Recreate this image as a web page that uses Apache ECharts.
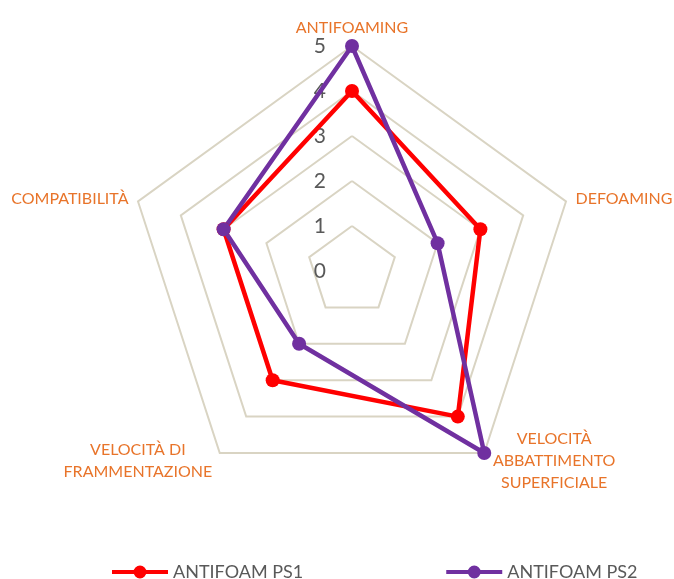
<!DOCTYPE html>
<html>
<head>
<meta charset="utf-8">
<script src="https://cdn.jsdelivr.net/npm/echarts@6/dist/echarts.min.js"></script>
<style>
  html, body { margin: 0; padding: 0; background: #fff; }
  #chart { width: 674px; height: 579px; }
</style>
</head>
<body>
<div id="chart"></div>
<script>
// Radar categories, in ECharts drawing order (counter-clockwise from the top)
const categories = [
  'ANTIFOAMING',
  'COMPATIBILITÀ',
  'VELOCITÀ DI\nFRAMMENTAZIONE',
  'VELOCITÀ\nABBATTIMENTO\nSUPERFICIALE',
  'DEFOAMING'
]
const seriesNames = ['ANTIFOAM PS1', 'ANTIFOAM PS2']
const ps1 = [4, 3, 3, 4, 3]
const ps2 = [5, 3, 2, 5, 2]
const axisMax = 5

const orange = '#E8742A'
const grey = '#595959'
const font = 'Lato'

const chart = echarts.init(document.getElementById('chart'))

const indicator = categories.map((name, i) => {
  const item = { name: name, min: 0, max: axisMax }
  if (i === 0) {
    item.axisLabel = { show: true }
  }
  return item
})

// legend icon: a line with a dot in the middle
const legendIcon = 'path://M0,6L56,6L56,10L0,10Z M28,1.5A6.5,6.5 0 1 1 28,14.5A6.5,6.5 0 1 1 28,1.5Z'

const nameStyle = { color: orange, fontSize: 16, lineHeight: 22, fontFamily: font, align: 'center' }

chart.setOption({
  animation: false,
  textStyle: { fontFamily: font },
  legend: {
    data: seriesNames,
    bottom: -7,
    left: 107,
    icon: legendIcon,
    itemWidth: 56,
    itemHeight: 16,
    itemGap: 143,
    textStyle: { color: grey, fontSize: 18, fontFamily: font }
  },
  radar: {
    center: [352, 271],
    radius: 225,
    startAngle: 90,
    splitNumber: 5,
    shape: 'polygon',
    indicator: indicator,
    axisName: {
      color: orange,
      fontSize: 16,
      fontFamily: font,
      formatter: function (name) {
        if (name.indexOf('\n') < 0) return name
        // left-hand label is wider than the right-hand one
        const tag = categories.indexOf(name) === 2 ? 'l' : 'r'
        return name.split('\n').map(s => '{' + tag + '|' + s + '}').join('\n')
      },
      rich: {
        l: Object.assign({ width: 152 }, nameStyle),
        r: Object.assign({ width: 128 }, nameStyle)
      }
    },
    nameGap: 10,
    axisLine: { show: false },
    axisTick: { show: false },
    axisLabel: {
      show: false,
      color: grey,
      fontSize: 21,
      margin: 26,
      fontFamily: font
    },
    splitLine: { lineStyle: { color: '#D9D4C3', width: 2 } },
    splitArea: { show: false }
  },
  series: [{
    type: 'radar',
    symbol: 'circle',
    symbolSize: 14,
    data: [
      {
        name: seriesNames[0],
        value: ps1,
        lineStyle: { color: '#FF0000', width: 4.5 },
        itemStyle: { color: '#FF0000' }
      },
      {
        name: seriesNames[1],
        value: ps2,
        lineStyle: { color: '#7030A0', width: 4.5 },
        itemStyle: { color: '#7030A0' }
      }
    ]
  }]
})
</script>
</body>
</html>
